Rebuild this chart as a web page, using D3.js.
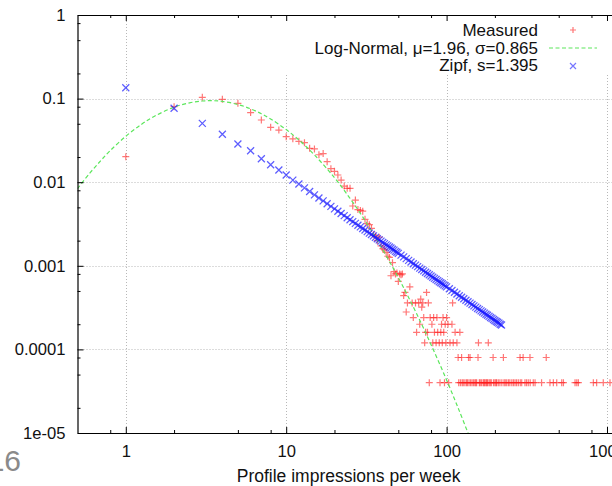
<!DOCTYPE html>
<html><head><meta charset="utf-8">
<script src="https://cdn.jsdelivr.net/npm/d3@7"></script>
<style>
body{margin:0;background:#fff;}
svg{display:block;}
text{font-family:"Liberation Sans",Arial,Helvetica,sans-serif;}
</style>
</head><body>
<svg id="c" width="612" height="486"></svg>
<script>
// ---------------- data ----------------
const measuredX = [
  1,2,3,4,5,6,7,8,9,10,
  11,12,13,14,15,16,17,18,19,20,
  21,22,23,24,25,26,27,28,29,30,
  31,32,33,34,35,36,37,38,39,40,
  41,42,43,44,45,46,47,48,49,50,
  51,52,53,54,
  55,56,57,59,61,62,64,65,67,68,
  69,70,71,72,73,74,75,76,77,78,
  79,81,82,83,84,86,87,88,90,91,
  92,93,94,95,96,97,98,99,100,102,
  103,105,108,109,110,113,116,118,119,121,
  122,124,125,127,130,133,135,137,138,140,
  141,144,147,150,152,154,157,158,160,162,
  165,169,171,173,176,178,180,182,184,187,
  190,195,196,200,203,205,210,215,221,226,
  228,232,237,243,248,255,261,267,273,280,
  287,288,294,300,308,315,323,331,332,347,
  356,391,418,441,463,486,522,535,632,648,
  663,822,862,948,1044
];
const measuredY = [
  0.0202,0.080,0.1035,0.098,0.0878,0.068,0.0555,0.0453,0.042,0.035,
  0.033,0.0308,0.0297,0.0254,0.025,0.0213,0.022,0.0176,0.0145,0.0135,
  0.0122,0.0106,0.0090,0.00845,0.00845,0.00519,0.00612,0.0047,0.0046,0.0045,
  0.0036,0.0032,0.0031,0.0028,0.00235,0.00228,0.0020,0.0022,0.00173,0.0016,
  0.00155,0.00145,0.0013,0.00126,0.00076,0.00109,0.00085,0.00080,0.00082,0.00065,
  0.00080,0.00078,0.00080,0.00044,
  0.00048,0.00028,0.00036,0.00056,0.00036,0.00024,0.00036,0.00016,0.00036,0.0002,
  0.0004,0.00032,0.00036,0.00024,0.00012,0.00016,0.00048,0.00016,0.00036,0.00004,
  0.00024,0.0002,0.00012,0.00024,0.00016,0.00012,0.00024,0.00016,0.00012,0.00004,
  0.00016,0.0002,0.00012,0.00024,0.00016,0.00004,0.0002,0.00012,0.00024,0.0002,
  0.00004,0.00012,0.0002,0.00036,0.00012,0.00016,0.00012,0.00008,0.00004,0.00016,
  0.00004,0.00008,0.00004,0.00004,0.00004,0.00004,0.00004,0.00008,0.00004,0.00008,
  0.00004,0.00004,0.00004,0.00004,0.00004,0.00004,0.00008,0.00012,0.00004,0.00004,
  0.00004,0.00004,0.00004,0.00004,0.00004,0.00004,0.00004,0.00012,0.00004,0.00004,
  0.00004,0.00008,0.00004,0.00004,0.00004,0.00004,0.00004,0.00004,0.00004,0.00008,
  0.00004,0.00004,0.00004,0.00004,0.00004,0.00004,0.00004,0.00004,0.00004,0.00004,
  0.00008,0.00004,0.00004,0.00008,0.00004,0.00004,0.00004,0.00008,0.00004,0.00004,
  0.00004,0.00004,0.00008,0.00004,0.00004,0.00004,0.00004,0.00004,0.00004,0.00004,
  0.00004,0.00004,0.00004,0.00004,0.00004
];

const zipfX = [
  1,2,3,4,5,6,7,8,9,10,11,12,13,14,15,16,17,18,19,20,
  21,22,23,24,25,26,27,28,29,30,31,32,33,34,35,36,37,38,39,40,
  41,42,43,44,45,46,47,48,49,50,
  52,54,56,58,60,62,64,66,68,70,72,74,76,78,80,82,84,86,88,90,92,94,96,98,100,
  104,108,112,116,120,124,128,132,136,140,144,148,152,156,160,164,168,172,176,180,
  184,188,192,196,200,204,208,212,216,220
];
const zipfY = [
  0.135,0.0766,0.0506,0.0374,0.0286,0.0238,0.0191,0.0162,0.0140,0.0122,
  0.0106,0.0095,0.00854,0.00773,0.00705,0.00647,0.00597,0.00553,0.00514,0.00480,
  0.00450,0.00423,0.00398,0.00376,0.00356,0.00338,0.00322,0.00306,0.00292,0.00279,
  0.00268,0.00256,0.00246,0.00237,0.00228,0.00219,0.00211,0.00204,0.00197,0.00190,
  0.00184,0.00178,0.00173,0.00168,0.00163,0.00158,0.00154,0.00149,0.00145,0.00141,
  0.00134,0.00128,0.00122,0.00116,0.00111,0.00106,0.00102,0.000976,0.000938,0.000902,
  0.000869,0.000837,0.000808,0.000781,0.000755,0.000730,0.000707,0.000685,0.000665,0.000645,
  0.000626,0.000609,0.000592,0.000576,0.000560,
  0.000532,0.000506,0.000482,0.000460,0.000439,0.000420,0.000403,0.000387,0.000372,0.000358,
  0.000344,0.000332,0.000320,0.000309,0.000299,0.000289,0.000280,0.000272,0.000263,0.000256,
  0.000248,0.000241,0.000235,0.000228,0.000222,0.000216,0.000211,0.000206,0.000200,0.000196
];

const lognormX = [0.5,0.6,0.7,0.8,1,1.25,1.5,2,2.5,3,3.5,4,5,6,7,8,10,12,15,20,25,30,40,50,60,70,80,100,120,140];
const lognormY = [0.00836,0.0130,0.0182,0.0239,0.0354,0.0491,0.0612,0.0789,0.0891,0.0936,0.0943,0.0925,0.0850,0.0754,0.0659,0.0571,0.0426,0.0320,0.0212,0.0113,0.00640,0.00384,0.00156,0.000723,0.000366,0.000199,0.000114,0.0000430,0.0000184,0.00000867];

const xTicks = [1,10,100,1000];
const xTickLabels = ["1","10","100","1000"];
const yTicks = [1e-5,1e-4,1e-3,1e-2,0.1,1];
const yTickLabels = ["1e-05","0.0001","0.001","0.01","0.1","1"];
const minorMultipliers = [2,5,8];
const legendLabels = ["Measured","Log-Normal, \u03bc=1.96, \u03c3=0.865","Zipf, s=1.395"];
const xTitle = "Profile impressions per week";
const pageNumber = "16";

// ---------------- layout ----------------
(function(){
const svg = d3.select("#c");
const L = 77.5, R = 619.7, T = 15, B = 433;
const x = d3.scaleLog().domain([0.5, 1200]).range([L, R]);
const y = d3.scaleLog().domain([1e-5, 1]).range([B, T]);

const xMinor = [], yMinor = [];
[0.1,1,10,100,1000].forEach(p => minorMultipliers.forEach(m => {
  const v = p*m; if (v > 0.5 && v < 1200) xMinor.push(v);
}));
[1e-6,1e-5,1e-4,1e-3,1e-2,0.1].forEach(p => minorMultipliers.forEach(m => {
  const v = p*m; if (v > 1e-5 && v < 1) yMinor.push(v);
}));

svg.append("rect").attr("width",612).attr("height",486).attr("fill","#fff");

// grid
const grid = svg.append("g").attr("stroke","#b8b8b8").attr("stroke-width",1).attr("stroke-dasharray","1,2");
grid.selectAll("line.v").data(xTicks).join("line").attr("class","v")
  .attr("x1",d=>Math.round(x(d))+0.5).attr("x2",d=>Math.round(x(d))+0.5).attr("y1",B).attr("y2",T);
grid.selectAll("line.h").data(yTicks.slice(1,-1)).join("line").attr("class","h")
  .attr("y1",d=>Math.round(y(d))+0.5).attr("y2",d=>Math.round(y(d))+0.5).attr("x1",L).attr("x2",R);

// key background (hides grid like gnuplot)
svg.append("rect").attr("x",284).attr("y",T+1).attr("width",R-284).attr("height",59).attr("fill","#fff");

// clip
svg.append("clipPath").attr("id","clip").append("rect").attr("x",L).attr("y",T).attr("width",R-L).attr("height",B-T);
const plot = svg.append("g").attr("clip-path","url(#clip)");

const plusPath = "M-3.5,0H3.5M0,-3.5V3.5";
const timesPath = "M-3.5,-3.5L3.5,3.5M-3.5,3.5L3.5,-3.5";

// measured
plot.append("g").selectAll("path").data(measuredX.map((d,i)=>[d,measuredY[i]])).join("path")
  .attr("d",plusPath).attr("transform",d=>`translate(${x(d[0])},${y(d[1])})`)
  .attr("fill","none").attr("stroke","#ff1a1a").attr("stroke-opacity",0.6).attr("stroke-width",1.2);

// log-normal
plot.append("path").datum(lognormX.map((d,i)=>[d,lognormY[i]]))
  .attr("d",d3.line().x(d=>x(d[0])).y(d=>y(d[1])).curve(d3.curveCatmullRom.alpha(0.5)))
  .attr("fill","none").attr("stroke","#5ce65c").attr("stroke-width",1.2).attr("stroke-dasharray","4,2.5");

// zipf
plot.append("g").selectAll("path").data(zipfX.map((d,i)=>[d,zipfY[i]])).join("path")
  .attr("d",timesPath).attr("transform",d=>`translate(${x(d[0])},${y(d[1])})`)
  .attr("fill","none").attr("stroke","#1a1aff").attr("stroke-opacity",0.7).attr("stroke-width",1.25);

// axes
function styleAxis(g, fs){
  g.attr("font-family",'"Liberation Sans",Arial,sans-serif').attr("font-size",fs);
  g.selectAll(".domain").attr("stroke","#000").attr("stroke-width",1.2);
  g.selectAll(".tick line").attr("stroke","#000").attr("stroke-width",1);
  g.selectAll(".tick text").attr("fill","#111");
}
const gBottom = svg.append("g").attr("transform",`translate(0,${B})`)
  .call(d3.axisBottom(x).tickValues(xTicks).tickFormat((d,i)=>xTickLabels[i]).tickSizeInner(-6).tickSizeOuter(0).tickPadding(12));
styleAxis(gBottom,16.6);
const gBottomMinor = svg.append("g").attr("transform",`translate(0,${B})`)
  .call(d3.axisBottom(x).tickValues(xMinor).tickFormat(()=>"").tickSizeInner(-3).tickSizeOuter(0));
gBottomMinor.select(".domain").remove(); styleAxis(gBottomMinor,10);

const gTop = svg.append("g").attr("transform",`translate(0,${T})`)
  .call(d3.axisTop(x).tickValues(xTicks).tickFormat(()=>"").tickSizeInner(-6).tickSizeOuter(0));
styleAxis(gTop,10);
const gTopMinor = svg.append("g").attr("transform",`translate(0,${T})`)
  .call(d3.axisTop(x).tickValues(xMinor).tickFormat(()=>"").tickSizeInner(-3).tickSizeOuter(0));
gTopMinor.select(".domain").remove(); styleAxis(gTopMinor,10);

const gLeft = svg.append("g").attr("transform",`translate(${L},0)`)
  .call(d3.axisLeft(y).tickValues(yTicks).tickFormat((d,i)=>yTickLabels[i]).tickSizeInner(-6).tickSizeOuter(0).tickPadding(12));
styleAxis(gLeft,16.6);
const gLeftMinor = svg.append("g").attr("transform",`translate(${L},0)`)
  .call(d3.axisLeft(y).tickValues(yMinor).tickFormat(()=>"").tickSizeInner(-3).tickSizeOuter(0));
gLeftMinor.select(".domain").remove(); styleAxis(gLeftMinor,10);

// x title
svg.append("text").attr("x",(L+R)/2).attr("y",482).attr("text-anchor","middle")
  .attr("font-size",17.5).attr("fill","#111").text(xTitle);

// legend
const legBase = [36,53.5,71];
const leg = svg.append("g");
leg.selectAll("text").data(legendLabels).join("text")
  .attr("x",538).attr("y",(d,i)=>legBase[i]).attr("text-anchor","end")
  .attr("font-size",17).attr("fill","#111").text(d=>d);
leg.append("path").attr("d","M-3,0H3M0,-3V3").attr("transform","translate(573,30)")
  .attr("fill","none").attr("stroke","#ff1a1a").attr("stroke-opacity",0.6).attr("stroke-width",1.2);
leg.append("line").attr("x1",549).attr("x2",597).attr("y1",48).attr("y2",48)
  .attr("stroke","#5ce65c").attr("stroke-width",1.2).attr("stroke-dasharray","4,2.5");
leg.append("path").attr("d","M-3,-3L3,3M-3,3L3,-3").attr("transform","translate(573,66)")
  .attr("fill","none").attr("stroke","#1a1aff").attr("stroke-opacity",0.6).attr("stroke-width",1.2);

// page number artifact
svg.append("text").attr("x",21).attr("y",471).attr("text-anchor","end")
  .attr("font-family",'"Open Sans",sans-serif').attr("font-weight",300)
  .attr("font-size",30).attr("fill","#8a8a8a").text(pageNumber);
})();
</script>
</body></html>
